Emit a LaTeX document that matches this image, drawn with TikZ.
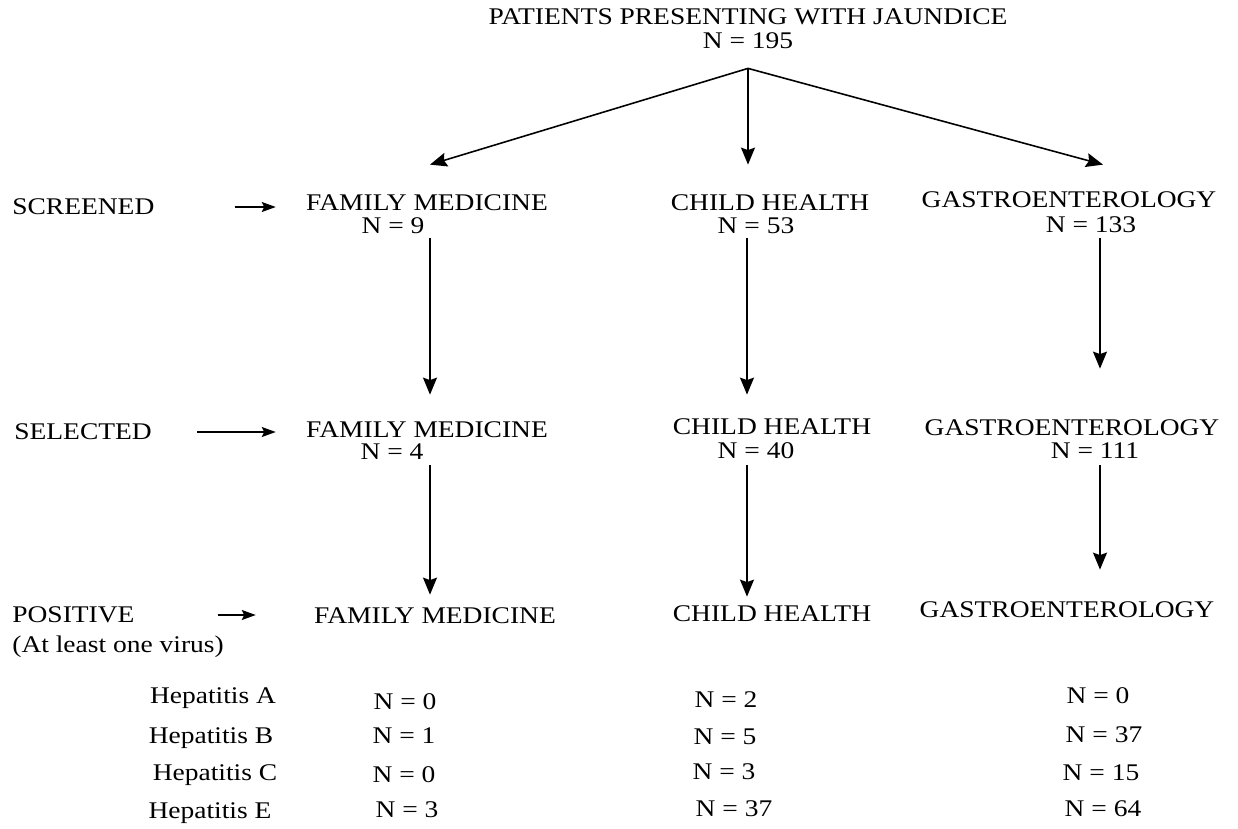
\documentclass[tikz,border=0pt]{standalone}
\usepackage{fontspec}
\setmainfont[FakeStretch=1.15]{Liberation Serif}
\usepackage{tikz}
\usetikzlibrary{arrows.meta}

\begin{document}
\begin{tikzpicture}[
    every node/.style={inner sep=0pt, font=\fontsize{13.6pt}{16pt}\selectfont},
    heading/.style={anchor=center},
    stage/.style={anchor=west},
    flow/.style={-{Stealth[length=3.4mm, width=2.8mm, inset=0.5mm]}, line width=0.9pt},
    side/.style={-{Stealth[length=2.8mm, width=2mm, inset=0.5mm]}, line width=0.8pt}]
    \useasboundingbox (0,0) rectangle (24.76,-16.56);

    \node[heading] (top)  at (14.96,-0.34) {PATIENTS PRESENTING WITH JAUNDICE};
    \node[heading] (ntop) at (14.96,-0.82) {N = 195};
    \coordinate (split) at ([yshift=-0.38cm]ntop.south);

    \coordinate (colA) at (8.6,0);
    \coordinate (colB) at (14.94,0);
    \coordinate (colC) at (22.0,0);

    % screened
    \node[stage] (scr) at (0.24,-4.14) {SCREENED};
    \node[heading] (fm1)  at (8.54,-4.06)  {FAMILY MEDICINE};
    \node[heading] (fmn1) at (7.86,-4.52)  {N = 9};
    \node[heading] (ch1)  at (15.40,-4.06) {CHILD HEALTH};
    \node[heading] (chn1) at (15.12,-4.52) {N = 53};
    \node[heading] (ge1)  at (21.38,-4.00) {GASTROENTEROLOGY};
    \node[heading] (gen1) at (21.82,-4.50) {N = 133};

    % selected
    \node[stage] (sel) at (0.28,-8.64) {SELECTED};
    \node[heading] (fm2)  at (8.54,-8.60)  {FAMILY MEDICINE};
    \node[heading] (fmn2) at (7.84,-9.04)  {N = 4};
    \node[heading] (ch2)  at (15.44,-8.54) {CHILD HEALTH};
    \node[heading] (chn2) at (15.12,-9.02) {N = 40};
    \node[heading] (ge2)  at (21.44,-8.56) {GASTROENTEROLOGY};
    \node[heading] (gen2) at (21.90,-9.02) {N = 111};

    % positive
    \node[stage] (pos)  at (0.24,-12.30) {POSITIVE};
    \node[stage] (posx) at (0.24,-12.94) {(At least one virus)};
    \node[heading] (fm3) at (8.70,-12.32)  {FAMILY MEDICINE};
    \node[heading] (ch3) at (15.44,-12.28) {CHILD HEALTH};
    \node[heading] (ge3) at (21.34,-12.20) {GASTROENTEROLOGY};

    % per virus
    \node[heading] (hepa) at (4.26,-13.96) {Hepatitis A};
    \node[heading] (hepb) at (4.22,-14.76) {Hepatitis B};
    \node[heading] (hepc) at (4.30,-15.50) {Hepatitis C};
    \node[heading] (hepe) at (4.20,-16.26) {Hepatitis E};

    \node[heading] (fma) at (8.10,-14.04) {N = 0};
    \node[heading] (fmb) at (8.08,-14.72) {N = 1};
    \node[heading] (fmc) at (8.08,-15.50) {N = 0};
    \node[heading] (fme) at (8.14,-16.20) {N = 3};

    \node[heading] (cha) at (14.52,-14.00) {N = 2};
    \node[heading] (chb) at (14.50,-14.74) {N = 5};
    \node[heading] (chc) at (14.48,-15.44) {N = 3};
    \node[heading] (che) at (14.68,-16.18) {N = 37};

    \node[heading] (gea) at (21.96,-13.92) {N = 0};
    \node[heading] (geb) at (22.08,-14.70) {N = 37};
    \node[heading] (gec) at (22.02,-15.46) {N = 15};
    \node[heading] (gee) at (22.06,-16.18) {N = 64};

    % arrows
    \draw[flow] (split) -- ([xshift=0.06cm, yshift=0.6cm]fm1.north);
    \draw[flow, shorten >=0.6cm] (split) -- (split |- ch1.north);
    \draw[flow] (split) -- ([xshift=0.68cm, yshift=0.54cm]ge1.north);

    \draw[flow, shorten <=0.08cm, shorten >=0.54cm] (fmn1.south -| colA) -- (fm2.north -| colA);
    \draw[flow, shorten <=0.08cm, shorten >=0.48cm] (chn1.south -| colB) -- (ch2.north -| colB);
    \draw[flow, shorten <=0.10cm, shorten >=1.02cm] (gen1.south -| colC) -- (ge2.north -| colC);

    \draw[flow, shorten <=0.10cm, shorten >=0.26cm] (fmn2.south -| colA) -- (fm3.north -| colA);
    \draw[flow, shorten <=0.12cm, shorten >=0.18cm] (chn2.south -| colB) -- (ch3.north -| colB);
    \draw[flow, shorten <=0.12cm, shorten >=0.64cm] (gen2.south -| colC) -- (ge3.north -| colC);

    \draw[side, shorten <=1.60cm, shorten >=0.60cm] (scr.east) -- (scr.east -| fm1.west);
    \draw[side, shorten <=0.90cm, shorten >=0.60cm] (sel.east) -- (sel.east -| fm2.west);
    \draw[side, shorten <=1.66cm, shorten >=1.16cm] (pos.east) -- (pos.east -| fm3.west);
  \end{tikzpicture}
\end{document}
